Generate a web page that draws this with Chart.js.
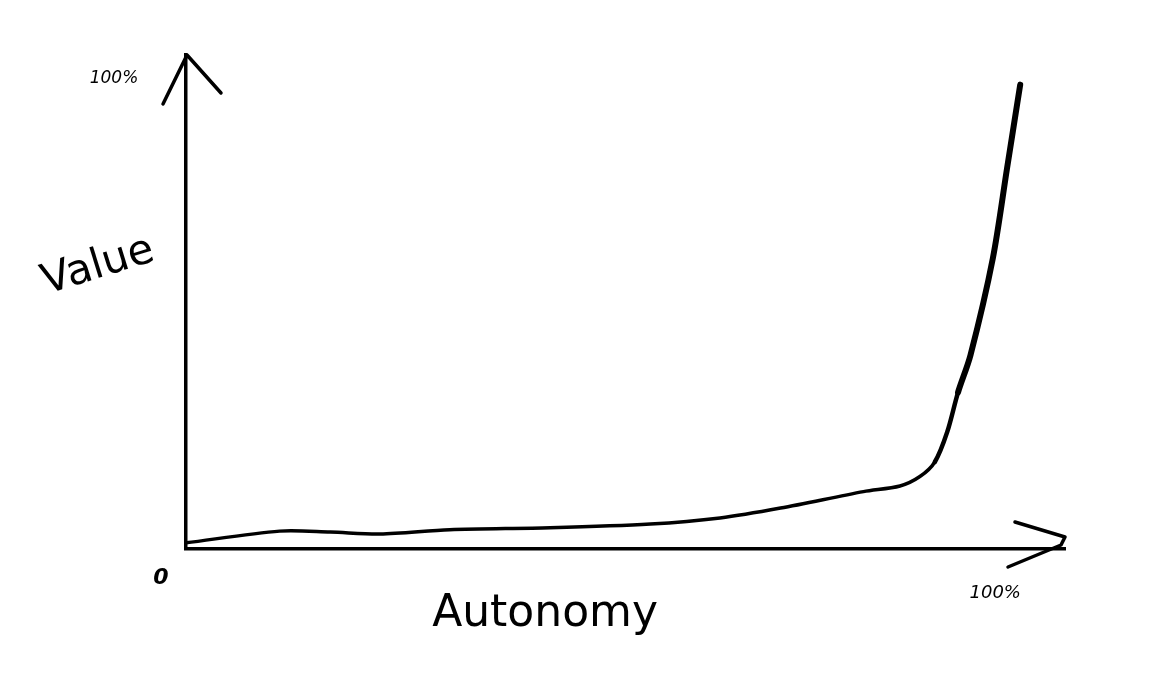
<!DOCTYPE html>
<html>
<head>
<meta charset="utf-8">
<script src="https://cdn.jsdelivr.net/npm/chart.js@4.4.1/dist/chart.umd.min.js"></script>
<style>
html,body{margin:0;padding:0;background:#fff;}
#wrap{width:1172px;height:694px;position:relative;}
</style>
</head>
<body>
<div id="wrap"><canvas id="c" width="1172" height="694"></canvas></div>
<script>
// Data (percent)
const autonomy = [0, 11.3, 17.4, 23.4, 31.8, 43.9, 56.0, 64.4, 71.7, 81.7, 86.1, 88.5, 90.3, 91.8, 93.1, 94.6, 97.3, 99.0, 100.6];
const value    = [1.3, 3.8, 3.6, 3.2, 4.1, 4.5, 5.3, 6.6, 8.7, 12.2, 13.4, 15.4, 18.5, 24.9, 33.3, 41.2, 61.8, 80.8, 98.7];
const xTitle = "Autonomy";
const yTitle = "Value";
const xTickLabels = ["0", "100%"];
const yTickLabels = ["100%"];

const points = autonomy.map((x, i) => ({x: x, y: value[i]}));

const sketch = {
  id: 'sketch',
  afterDraw(chart) {
    const ctx = chart.ctx;
    const xs = chart.scales.x, ys = chart.scales.y;
    const x0 = xs.getPixelForValue(0), y0 = ys.getPixelForValue(0);
    const top = chart.chartArea.top, right = chart.chartArea.right;
    ctx.save();
    ctx.strokeStyle = '#000';
    ctx.lineCap = 'round';
    ctx.lineJoin = 'round';
    ctx.lineWidth = 3.5;
    // y arrow head
    ctx.beginPath();
    ctx.moveTo(x0 - 23, top + 49);
    ctx.lineTo(x0 + 1, top);
    ctx.lineTo(x0 + 35, top + 38);
    ctx.stroke();
    // x arrow head
    ctx.beginPath();
    ctx.moveTo(right - 50, y0 - 27);
    ctx.lineTo(right, y0 - 12);
    ctx.lineTo(right - 4, y0 - 4);
    ctx.lineTo(right - 57, y0 + 18);
    ctx.stroke();
    // texts
    ctx.fillStyle = '#000';
    ctx.textAlign = 'center';
    ctx.textBaseline = 'middle';
    ctx.font = 'italic 17px "DejaVu Sans"';
    ctx.fillText(yTickLabels[0], x0 - 72, ys.getPixelForValue(100));
    ctx.font = 'italic bold 22px "DejaVu Sans"';
    ctx.fillText(xTickLabels[0], x0 - 25, y0 + 29);
    ctx.font = 'italic 18px "DejaVu Sans"';
    ctx.fillText(xTickLabels[1], xs.getPixelForValue(100) - 20, y0 + 44);
    ctx.font = '44px "DejaVu Sans"';
    ctx.fillText(xTitle, xs.getPixelForValue(43.3), y0 + 66);
    ctx.save();
    ctx.translate(x0 - 88, ys.getPixelForValue(60));
    ctx.rotate(-0.3);
    ctx.font = '42px "DejaVu Sans"';
    ctx.fillText(yTitle, 0, 0);
    ctx.restore();
    ctx.restore();
  }
};

new Chart(document.getElementById('c'), {
  type: 'line',
  data: {
    datasets: [{
      data: points,
      borderColor: '#000',
      borderWidth: 3.5,
      pointRadius: 0,
      tension: 0.3,
      borderCapStyle: 'round',
      borderJoinStyle: 'round',
      segment: {
        borderWidth: c => (c.p0.parsed.y > 30 ? 6 : (c.p0.parsed.y > 16 ? 4.5 : 3.5))
      }
    }]
  },
  options: {
    responsive: false,
    animation: false,
    devicePixelRatio: 1,
    layout: { padding: { left: 186, right: 107, top: 55, bottom: 145 } },
    plugins: { legend: { display: false }, tooltip: { enabled: false } },
    scales: {
      x: {
        type: 'linear', min: 0, max: 106,
        grid: { display: false, drawTicks: false },
        border: { display: true, color: '#000', width: 3.5 },
        ticks: { display: false }
      },
      y: {
        type: 'linear', min: 0, max: 105,
        grid: { display: false, drawTicks: false },
        border: { display: true, color: '#000', width: 3.5 },
        ticks: { display: false }
      }
    }
  },
  plugins: [sketch]
});
</script>
</body>
</html>
